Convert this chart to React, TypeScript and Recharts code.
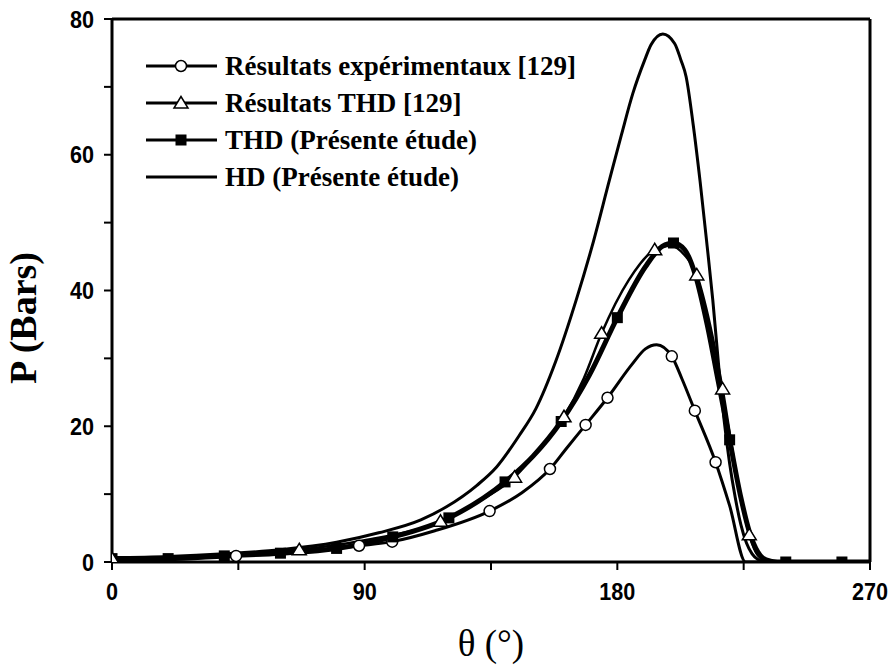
import {
  ComposedChart,
  Line,
  Scatter,
  XAxis,
  YAxis,
  ReferenceLine,
} from "recharts";

// Résultats expérimentaux [129] — markers and the fitted curve
const expMarkers = [
  { x: 0, y: 0 }, { x: 44.2, y: 0.9 }, { x: 88, y: 2.4 }, { x: 99.8, y: 3 },
  { x: 134.5, y: 7.5 }, { x: 156, y: 13.7 }, { x: 168.7, y: 20.2 }, { x: 176.5, y: 24.2 },
  { x: 199.4, y: 30.3 }, { x: 207.6, y: 22.3 }, { x: 215, y: 14.7 },
];
const expCurve = [
  { x: 0, y: 0.3 }, { x: 20, y: 0.5 }, { x: 44.2, y: 0.9 }, { x: 70, y: 1.6 },
  { x: 88, y: 2.4 }, { x: 99.8, y: 3 }, { x: 115, y: 4.6 }, { x: 134.5, y: 7.5 },
  { x: 146, y: 10.2 }, { x: 156, y: 13.7 }, { x: 162, y: 16.8 }, { x: 168.7, y: 20.2 },
  { x: 176.5, y: 24.2 }, { x: 185, y: 29 }, { x: 190, y: 31.4 }, { x: 194, y: 32 },
  { x: 199.4, y: 30.3 }, { x: 203, y: 27 }, { x: 207.6, y: 22.3 }, { x: 215, y: 14.7 },
  { x: 220, y: 8.3 }, { x: 225.7, y: 0 }, { x: 270, y: 0 },
];

// Résultats THD [129]
const thdRefMarkers = [
  { x: 0, y: 0.5 }, { x: 66.7, y: 1.8 }, { x: 117, y: 6 }, { x: 143.4, y: 12.5 },
  { x: 161, y: 21.4 }, { x: 174.4, y: 33.7 }, { x: 193.3, y: 46 }, { x: 208.3, y: 42.3 },
  { x: 217.5, y: 25.5 }, { x: 227, y: 4 },
];
const thdRefCurve = [
  { x: 0, y: 0.5 }, { x: 30, y: 0.9 }, { x: 66.7, y: 1.8 }, { x: 90, y: 3.2 },
  { x: 117, y: 6 }, { x: 130, y: 8.8 }, { x: 143.4, y: 12.5 }, { x: 152, y: 16.5 },
  { x: 161, y: 21.4 }, { x: 168, y: 27 }, { x: 174.4, y: 33.7 }, { x: 184, y: 41.5 },
  { x: 193.3, y: 46 }, { x: 199, y: 46.6 }, { x: 204, y: 45.2 }, { x: 208.3, y: 42.3 },
  { x: 213, y: 35 }, { x: 217.5, y: 25.5 }, { x: 222, y: 14 }, { x: 227, y: 4 },
  { x: 230, y: 1 }, { x: 234, y: 0 }, { x: 270, y: 0 },
];

// THD (Présente étude)
const thdMarkers = [
  { x: 0, y: 0.5 }, { x: 20, y: 0.5 }, { x: 40, y: 0.9 }, { x: 60, y: 1.3 },
  { x: 80, y: 2 }, { x: 100, y: 3.7 }, { x: 120, y: 6.5 }, { x: 140, y: 11.8 },
  { x: 160, y: 20.7 }, { x: 180, y: 36 }, { x: 200, y: 47 }, { x: 220, y: 18 },
  { x: 240, y: 0 }, { x: 260, y: 0 },
];
const thdCurve = [
  { x: 0, y: 0.5 }, { x: 20, y: 0.5 }, { x: 40, y: 0.9 }, { x: 60, y: 1.3 },
  { x: 80, y: 2 }, { x: 100, y: 3.7 }, { x: 120, y: 6.5 }, { x: 140, y: 11.8 },
  { x: 150, y: 15.6 }, { x: 160, y: 20.7 }, { x: 170, y: 27.5 }, { x: 180, y: 36 },
  { x: 190, y: 43.5 }, { x: 196, y: 46.5 }, { x: 200, y: 47 }, { x: 204, y: 46 },
  { x: 208, y: 42 }, { x: 212, y: 35 }, { x: 216, y: 26.5 }, { x: 220, y: 18 },
  { x: 224, y: 9.5 }, { x: 227, y: 4.5 }, { x: 230, y: 1.5 }, { x: 233, y: 0.3 },
  { x: 237, y: 0 }, { x: 240, y: 0 }, { x: 260, y: 0 }, { x: 270, y: 0 },
];

// HD (Présente étude)
const hdCurve = [
  { x: 0, y: 0.6 }, { x: 20, y: 0.8 }, { x: 40, y: 1.2 }, { x: 60, y: 1.8 },
  { x: 80, y: 2.9 }, { x: 95, y: 4.3 }, { x: 110, y: 6.2 }, { x: 119, y: 8.1 },
  { x: 130, y: 11.3 }, { x: 137, y: 14 }, { x: 145, y: 18.6 }, { x: 151, y: 22.6 },
  { x: 158, y: 29.5 }, { x: 165.5, y: 38.8 }, { x: 171, y: 46.5 }, { x: 177.2, y: 56.3 },
  { x: 181.5, y: 63 }, { x: 185.5, y: 69 }, { x: 189.7, y: 73.9 }, { x: 192, y: 76.2 },
  { x: 196.2, y: 77.8 }, { x: 200.4, y: 76.4 }, { x: 202.7, y: 73.9 }, { x: 204.5, y: 71.5 },
  { x: 207, y: 64.5 }, { x: 209.5, y: 56 }, { x: 212, y: 46.5 }, { x: 214, y: 38.6 },
  { x: 216.4, y: 27.5 }, { x: 218, y: 21 }, { x: 220, y: 14.5 }, { x: 222, y: 9.5 },
  { x: 224, y: 5.5 }, { x: 226, y: 2.8 }, { x: 228, y: 1.2 }, { x: 230, y: 0.4 },
  { x: 233, y: 0 }, { x: 270, y: 0 },
];

const xTicks = [0, 45, 90, 135, 180, 225, 270];
const yTicks = [0, 10, 20, 30, 40, 50, 60, 70, 80];

const legendItems = [
  { label: "Résultats expérimentaux [129]", marker: "circle" },
  { label: "Résultats THD [129]", marker: "triangle" },
  { label: "THD (Présente étude)", marker: "square" },
  { label: "HD (Présente étude)", marker: "none" },
];

const SERIF = "'Liberation Serif', 'Times New Roman', serif";
const SANS = "'Liberation Sans', Arial, sans-serif";

const CircleMark = ({ cx, cy }: { cx?: number; cy?: number }) =>
  cx == null || cy == null ? null : (
    <circle cx={cx} cy={cy} r={5.5} fill="#fff" stroke="#000" strokeWidth={1.5} />
  );

const TriangleMark = ({ cx, cy }: { cx?: number; cy?: number }) =>
  cx == null || cy == null ? null : (
    <polygon
      points={`${cx},${cy - 6.5} ${cx - 7},${cy + 5} ${cx + 7},${cy + 5}`}
      fill="#fff"
      stroke="#000"
      strokeWidth={1.5}
    />
  );

const SquareMark = ({ cx, cy }: { cx?: number; cy?: number }) =>
  cx == null || cy == null ? null : (
    <rect x={cx - 5.5} y={cy - 5.5} width={11} height={11} fill="#000" />
  );

// tick digits in the source are a condensed bold sans
const XTick = ({ x, y, payload }: any) =>
  payload.value % 90 !== 0 ? null : (
    <text
      transform={`translate(${x},${y + 28}) scale(0.9,1)`}
      textAnchor="middle"
      fontFamily={SANS}
      fontWeight="bold"
      fontSize={24}
      fill="#000"
    >
      {payload.value}
    </text>
  );

const YTick = ({ x, y, payload }: any) =>
  payload.value % 20 !== 0 ? null : (
    <text
      transform={`translate(${x - 8},${y + 8.5}) scale(0.9,1)`}
      textAnchor="end"
      fontFamily={SANS}
      fontWeight="bold"
      fontSize={24}
      fill="#000"
    >
      {payload.value}
    </text>
  );

function Legend() {
  return (
    <svg width={893} height={665} style={{ position: "absolute", left: 0, top: 0, pointerEvents: "none" }}>
      {legendItems.map((item, i) => {
        const cy = 66 + i * 37;
        const mx = 181;
        return (
          <g key={item.label}>
            <line x1={146} x2={217} y1={cy} y2={cy} stroke="#000" strokeWidth={3} />
            {item.marker === "circle" && <CircleMark cx={mx} cy={cy} />}
            {item.marker === "triangle" && <TriangleMark cx={mx} cy={cy} />}
            {item.marker === "square" && <SquareMark cx={mx} cy={cy} />}
            <text x={225} y={cy + 9} fontFamily={SERIF} fontWeight="bold" fontSize={27} fill="#000">
              {item.label}
            </text>
          </g>
        );
      })}
    </svg>
  );
}

export default function App() {
  return (
    <div style={{ position: "absolute", left: 0, top: 0, width: 893, height: 665, background: "#fff" }}>
      <ComposedChart width={893} height={665} margin={{ top: 19, right: 23, bottom: 43, left: 42 }}>
        <XAxis
          type="number"
          dataKey="x"
          domain={[0, 270]}
          ticks={xTicks}
          interval={0}
          height={60}
          tickSize={8}
          axisLine={{ stroke: "#000", strokeWidth: 3 }}
          tickLine={{ stroke: "#000", strokeWidth: 2 }}
          tick={<XTick />}
          allowDataOverflow
          label={() => (
            <text x={491} y={656} textAnchor="middle" fontFamily={SERIF} fontSize={37} fill="#000">
              θ (°)
            </text>
          )}
        />
        <YAxis
          type="number"
          dataKey="y"
          domain={[0, 80]}
          ticks={yTicks}
          interval={0}
          width={70}
          tickSize={8}
          axisLine={{ stroke: "#000", strokeWidth: 3 }}
          tickLine={{ stroke: "#000", strokeWidth: 2 }}
          tick={<YTick />}
          allowDataOverflow
          label={() => (
            <text
              x={36}
              y={318}
              transform="rotate(-90, 36, 318)"
              textAnchor="middle"
              fontFamily={SERIF}
              fontWeight="bold"
              fontSize={38}
              fill="#000"
            >
              P (Bars)
            </text>
          )}
        />
        <ReferenceLine y={80} stroke="#000" strokeWidth={3} />
        <ReferenceLine x={270} stroke="#000" strokeWidth={3} />

        <Line data={expCurve} dataKey="y" type="monotone" stroke="#000" strokeWidth={3} dot={false} isAnimationActive={false} />
        <Line data={thdRefCurve} dataKey="y" type="monotone" stroke="#000" strokeWidth={2.5} dot={false} isAnimationActive={false} />
        <Line data={hdCurve} dataKey="y" type="monotone" stroke="#000" strokeWidth={3} dot={false} isAnimationActive={false} />
        <Line data={thdCurve} dataKey="y" type="monotone" stroke="#000" strokeWidth={5} dot={false} isAnimationActive={false} />

        <Scatter data={expMarkers} dataKey="y" shape={<CircleMark />} isAnimationActive={false} />
        <Scatter data={thdMarkers} dataKey="y" shape={<SquareMark />} isAnimationActive={false} />
        <Scatter data={thdRefMarkers} dataKey="y" shape={<TriangleMark />} isAnimationActive={false} />
      </ComposedChart>
      <Legend />
    </div>
  );
}
